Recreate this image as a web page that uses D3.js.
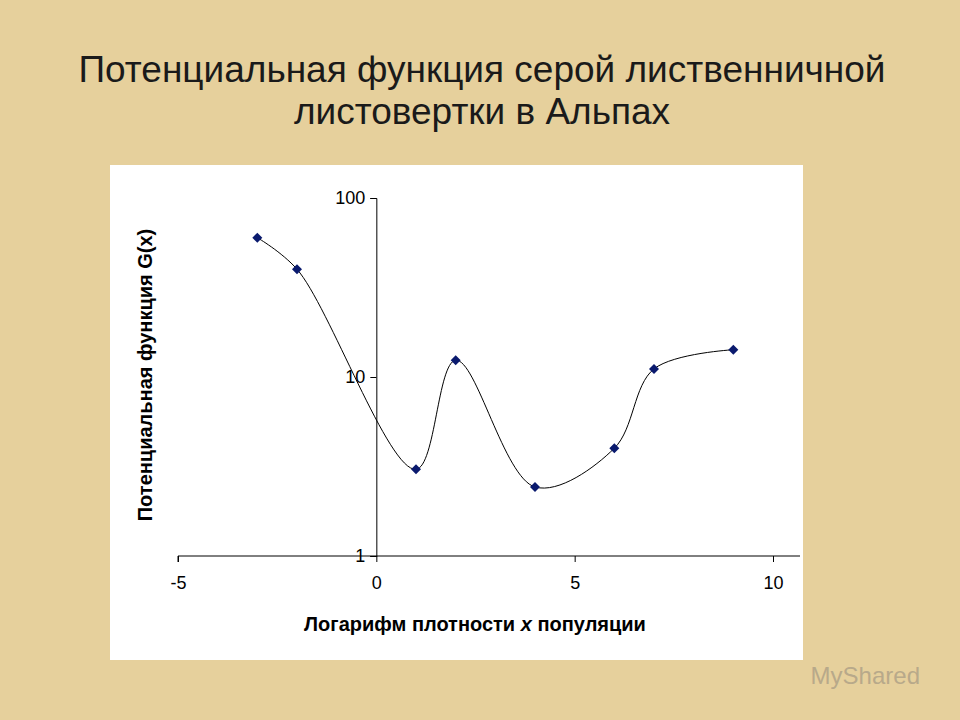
<!doctype html>
<html lang="en">
<head>
<meta charset="utf-8">
<script src="https://cdn.jsdelivr.net/npm/d3@7"></script>
<style>
  body { margin: 0; background: #e6d09c; }
  svg { display: block; font-family: Arial, "Liberation Sans", sans-serif; }
</style>
</head>
<body>
<svg id="chart" width="960" height="720"></svg>
<script>
  // data
  let xVals = [-3, -2, 1, 2, 4, 6, 7, 9]
  let gVals = [60, 40, 3.05, 12.4, 2.43, 4.0, 11.1, 14.2]
  let xTicks = [-5, 0, 5, 10]
  let yTicks = [1, 10, 100]

  let svg = d3.select('#chart')

  // paper-ish background
  svg.append('rect').attr('width', 960).attr('height', 720).attr('fill', '#e6d09c')

  svg.append('text')
      .attr('x', 482).attr('y', 82)
      .attr('text-anchor', 'middle')
      .attr('font-size', 37).attr('fill', '#1a1a1a')
      .text('Потенциальная функция серой лиственничной')
  svg.append('text')
      .attr('x', 482).attr('y', 124)
      .attr('text-anchor', 'middle')
      .attr('font-size', 37).attr('fill', '#1a1a1a')
      .text('листовертки в Альпах')

  svg.append('rect')
      .attr('x', 110).attr('y', 165).attr('width', 693).attr('height', 495)
      .attr('fill', 'white')

  let x = d3.scaleLinear().domain([-5, 10]).range([178, 773])
  let y = d3.scaleLog().domain([1, 100]).range([556, 198])

  svg.append('g')
      .attr('transform', 'translate(0,' + y(1) + ')')
      .call(d3.axisBottom(x).tickValues(xTicks).tickFormat(d => String(d)).tickSize(6).tickPadding(14))
      .call(g => g.selectAll('text').attr('font-size', 18).attr('fill', 'black'))
      .call(g => g.select('.domain').attr('d', 'M178,6V0H800'))

  svg.append('g')
      .attr('transform', 'translate(' + x(0) + ',0)')
      .call(d3.axisLeft(y).tickValues(yTicks).tickFormat(d3.format('d')).tickSize(6).tickPadding(5))
      .call(g => g.selectAll('text').attr('font-size', 18).attr('fill', 'black'))

  let pts = xVals.map((v, i) => [x(v), y(gVals[i])])

  svg.append('path')
      .attr('d', d3.line().curve(d3.curveCatmullRom.alpha(0.5))(pts))
      .attr('fill', 'none').attr('stroke', 'black').attr('stroke-width', 1)

  svg.selectAll('.pt')
      .data(pts)
      .enter().append('path')
      .attr('class', 'pt')
      .attr('transform', d => 'translate(' + d[0] + ',' + d[1] + ')')
      .attr('d', 'M0,-5L5,0L0,5L-5,0Z')
      .attr('fill', '#0a1a6e')

  svg.append('text')
      .attr('transform', 'translate(152,375) rotate(-90)')
      .attr('text-anchor', 'middle')
      .attr('font-size', 20).attr('font-weight', 'bold')
      .text('Потенциальная функция G(x)')

  let xt = svg.append('text')
      .attr('x', 475).attr('y', 631)
      .attr('text-anchor', 'middle')
      .attr('font-size', 20).attr('font-weight', 'bold')
  xt.append('tspan').text('Логарифм плотности ')
  xt.append('tspan').attr('font-style', 'italic').text('x')
  xt.append('tspan').text('  популяции')

  svg.append('text')
      .attr('x', 920).attr('y', 684)
      .attr('text-anchor', 'end')
      .attr('font-size', 24).attr('fill', '#b8a98a')
      .text('MyShared')
</script>
</body>
</html>
